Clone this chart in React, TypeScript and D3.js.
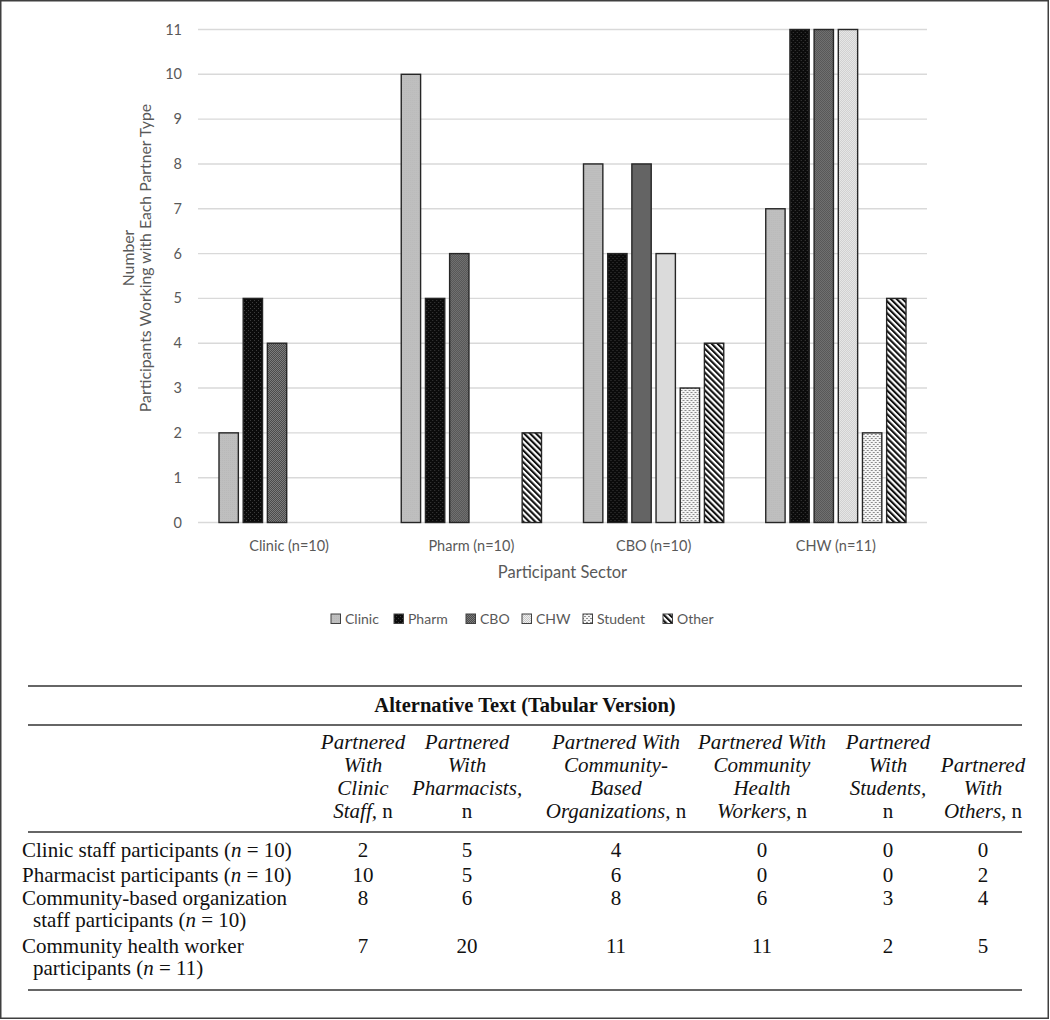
import React from "react";
import * as d3 from "d3";

// ---------- DATA ----------
const sectors = ["Clinic (n=10)", "Pharm (n=10)", "CBO (n=10)", "CHW (n=11)"];
const partnerTypes = ["Clinic", "Pharm", "CBO", "CHW", "Student", "Other"];
const clinicValues = [2, 10, 8, 7];
const pharmValues = [5, 5, 6, 11];
const cboValues = [4, 6, 8, 11];
const chwValues = [0, 0, 6, 11];
const studentValues = [0, 0, 3, 2];
const otherValues = [0, 2, 4, 5];
const yTicks = [0, 1, 2, 3, 4, 5, 6, 7, 8, 9, 10, 11];

const yTitleLines = ["Number", "Participants Working with Each Partner Type"];
const xTitle = "Participant Sector";

const tableTitle = "Alternative Text (Tabular Version)";
const tableHeaders = [
  ["Partnered", "With", "Clinic", "Staff, n"],
  ["Partnered", "With", "Pharmacists,", "n"],
  ["Partnered With", "Community-", "Based", "Organizations, n"],
  ["Partnered With", "Community", "Health", "Workers, n"],
  ["Partnered", "With", "Students,", "n"],
  ["Partnered", "With", "Others, n"],
];
const tableRowLabels = [
  ["Clinic staff participants (n = 10)"],
  ["Pharmacist participants (n = 10)"],
  ["Community-based organization", "staff participants (n = 10)"],
  ["Community health worker", "participants (n = 11)"],
];
const tableValues = [
  [2, 5, 4, 0, 0, 0],
  [10, 5, 6, 0, 0, 2],
  [8, 6, 8, 6, 3, 4],
  [7, 20, 11, 11, 2, 5],
];

// ---------- LAYOUT ----------
const W = 1050;
const H = 1020;
const plot = { left: 198, right: 927, top: 29.5, bottom: 522.5 };
const sansFont = "Lato, 'Open Sans', sans-serif";
const serifFont = "'Liberation Serif', 'DejaVu Serif', serif";
const textGray = "#595959";
const legendSwatchX = [331, 394, 466, 522, 583, 663];
const tableColX = [363, 467, 616, 762, 888, 983];
const tableFontSize = 21;

function renderWithItalicN(s: string) {
  const m = s.match(/^(.*\()n( = .*)$/);
  if (!m) return s;
  return (
    <>
      {m[1]}
      <tspan fontStyle="italic">n</tspan>
      {m[2]}
    </>
  );
}

function renderHeaderLine(s: string) {
  if (s === "n") return <tspan fontStyle="normal">n</tspan>;
  if (s.endsWith(", n")) {
    return (
      <>
        <tspan fontStyle="italic">{s.slice(0, -2)}</tspan>
        <tspan fontStyle="normal">{" n"}</tspan>
      </>
    );
  }
  return <tspan fontStyle="italic">{s}</tspan>;
}

export default function App() {
  const series = [clinicValues, pharmValues, cboValues, chwValues, studentValues, otherValues];
  const patternIds = ["p-clinic", "p-pharm", "p-cbo", "p-chw", "p-student", "p-other"];

  const x0 = d3.scaleBand<string>().domain(sectors).range([plot.left, plot.right]).paddingInner(0).paddingOuter(0);
  const x1 = d3
    .scaleBand<string>()
    .domain(partnerTypes)
    .range([21, x0.bandwidth() - 21])
    .paddingInner(0.2)
    .paddingOuter(0);
  const y = d3.scaleLinear().domain([0, 11]).range([plot.bottom, plot.top]);

  const plotMidY = (plot.top + plot.bottom) / 2 - 18;

  const tTop = 686;
  const tRule2 = 725;
  const headerBaselines = [749, 772, 795, 818];
  const tRule3 = 832;
  const rowBaselines = [[857], [882], [905, 927], [953, 975]];
  const tBottom = 990;

  return (
    <svg
      width={W}
      height={H}
      style={{ position: "absolute", left: 0, top: 0, background: "#fff" }}
      xmlns="http://www.w3.org/2000/svg"
    >
      <defs>
        <pattern id="p-clinic" patternUnits="userSpaceOnUse" width="2" height="2">
          <rect width="2" height="2" fill="#bfbfbf" />
          <rect width="1" height="1" fill="#b9b9b9" />
        </pattern>
        <pattern id="p-pharm" patternUnits="userSpaceOnUse" width="4" height="4">
          <rect width="4" height="4" fill="#0b0b0b" />
          <rect x="0" y="0" width="1" height="1" fill="#3c3c3c" />
          <rect x="2" y="2" width="1" height="1" fill="#3c3c3c" />
        </pattern>
        <pattern id="p-cbo" patternUnits="userSpaceOnUse" width="2" height="2">
          <rect width="2" height="2" fill="#4c4c4c" />
          <rect x="0" y="0" width="1" height="1" fill="#7c7c7c" />
          <rect x="1" y="1" width="1" height="1" fill="#7c7c7c" />
        </pattern>
        <pattern id="p-chw" patternUnits="userSpaceOnUse" width="2" height="2">
          <rect width="2" height="2" fill="#f0f0f0" />
          <rect x="0" y="0" width="1" height="1" fill="#c6c6c6" />
          <rect x="1" y="1" width="1" height="1" fill="#c6c6c6" />
        </pattern>
        <pattern id="p-student" patternUnits="userSpaceOnUse" width="4" height="4">
          <rect width="4" height="4" fill="#f4f4f4" />
          <rect x="0" y="0" width="2" height="1" fill="#8a8a8a" />
          <rect x="2" y="2" width="2" height="1" fill="#8a8a8a" />
        </pattern>
        <pattern
          id="p-other"
          patternUnits="userSpaceOnUse"
          width="4.2"
          height="4.2"
          patternTransform="rotate(-45)"
        >
          <rect width="4.2" height="4.2" fill="#ffffff" />
          <rect x="0" y="0" width="2.1" height="4.2" fill="#111111" />
        </pattern>
      </defs>

      {/* outer border */}
      <rect x={0.75} y={0.75} width={W - 2.5} height={H - 2.5} fill="none" stroke="#3f3f3f" strokeWidth={1.5} />

      {/* gridlines */}
      {yTicks.map((t) => (
        <line
          key={"g" + t}
          x1={plot.left}
          x2={plot.right}
          y1={y(t)}
          y2={y(t)}
          stroke="#d9d9d9"
          strokeWidth={1.4}
        />
      ))}

      {/* y tick labels */}
      {yTicks.map((t) => (
        <text
          key={"yt" + t}
          x={182}
          y={y(t)}
          dy="0.35em"
          textAnchor="end"
          fontFamily={sansFont}
          fontSize={14.5}
          fill={textGray}
        >
          {t}
        </text>
      ))}

      {/* bars */}
      {sectors.map((s, si) => (
        <g key={s} transform={`translate(${x0(s)},0)`}>
          {partnerTypes.map((p, pi) => {
            const v = series[pi][si];
            if (!v) return null;
            return (
              <rect
                key={p}
                x={x1(p)}
                y={y(v)}
                width={x1.bandwidth()}
                height={y(0) - y(v)}
                fill={`url(#${patternIds[pi]})`}
                stroke="#262626"
                strokeWidth={1.4}
              />
            );
          })}
        </g>
      ))}

      {/* category labels */}
      {sectors.map((s) => (
        <text
          key={"c" + s}
          x={(x0(s) as number) + x0.bandwidth() / 2}
          y={546}
          dy="0.35em"
          textAnchor="middle"
          fontFamily={sansFont}
          fontSize={14.5}
          fill={textGray}
        >
          {s}
        </text>
      ))}

      {/* x title */}
      <text
        x={(plot.left + plot.right) / 2}
        y={572}
        dy="0.35em"
        textAnchor="middle"
        fontFamily={sansFont}
        fontSize={16.5}
        fill={textGray}
      >
        {xTitle}
      </text>

      {/* y title */}
      <text
        transform={`translate(134, ${plotMidY}) rotate(-90)`}
        textAnchor="middle"
        fontFamily={sansFont}
        fontSize={15.8}
        fill={textGray}
      >
        <tspan x={0} y={0}>
          {yTitleLines[0]}
        </tspan>
        <tspan x={0} y={17}>
          {yTitleLines[1]}
        </tspan>
      </text>

      {/* legend */}
      {partnerTypes.map((p, i) => (
        <g key={"l" + p}>
          <rect
            x={legendSwatchX[i]}
            y={614}
            width={9.5}
            height={9.5}
            fill={`url(#${patternIds[i]})`}
            stroke="#404040"
            strokeWidth={1}
          />
          <text
            x={legendSwatchX[i] + 14}
            y={619}
            dy="0.35em"
            fontFamily={sansFont}
            fontSize={14}
            fill={textGray}
          >
            {p}
          </text>
        </g>
      ))}

      {/* ---------- TABLE ---------- */}
      <line x1={28} x2={1022} y1={tTop} y2={tTop} stroke="#666" strokeWidth={2} />
      <text
        x={525}
        y={712}
        textAnchor="middle"
        fontFamily={serifFont}
        fontWeight="bold"
        fontSize={20.5}
        fill="#111"
      >
        {tableTitle}
      </text>
      <line x1={28} x2={1022} y1={tRule2} y2={tRule2} stroke="#666" strokeWidth={2} />

      {tableHeaders.map((lines, ci) => {
        const offset = headerBaselines.length - lines.length;
        return (
          <text
            key={"h" + ci}
            textAnchor="middle"
            fontFamily={serifFont}
            fontSize={tableFontSize}
            fill="#111"
          >
            {lines.map((ln, li) => (
              <tspan key={li} x={tableColX[ci]} y={headerBaselines[li + offset]}>
                {renderHeaderLine(ln)}
              </tspan>
            ))}
          </text>
        );
      })}
      <line x1={28} x2={1022} y1={tRule3} y2={tRule3} stroke="#666" strokeWidth={2} />

      {tableRowLabels.map((lines, ri) => (
        <g key={"r" + ri}>
          {lines.map((ln, li) => (
            <text
              key={li}
              x={li === 0 ? 22 : 33}
              y={rowBaselines[ri][li]}
              fontFamily={serifFont}
              fontSize={tableFontSize}
              fill="#111"
            >
              {renderWithItalicN(ln)}
            </text>
          ))}
          {tableValues[ri].map((v, ci) => (
            <text
              key={"v" + ci}
              x={tableColX[ci]}
              y={rowBaselines[ri][0]}
              textAnchor="middle"
              fontFamily={serifFont}
              fontSize={tableFontSize}
              fill="#111"
            >
              {v}
            </text>
          ))}
        </g>
      ))}
      <line x1={28} x2={1022} y1={tBottom} y2={tBottom} stroke="#666" strokeWidth={2} />
    </svg>
  );
}
